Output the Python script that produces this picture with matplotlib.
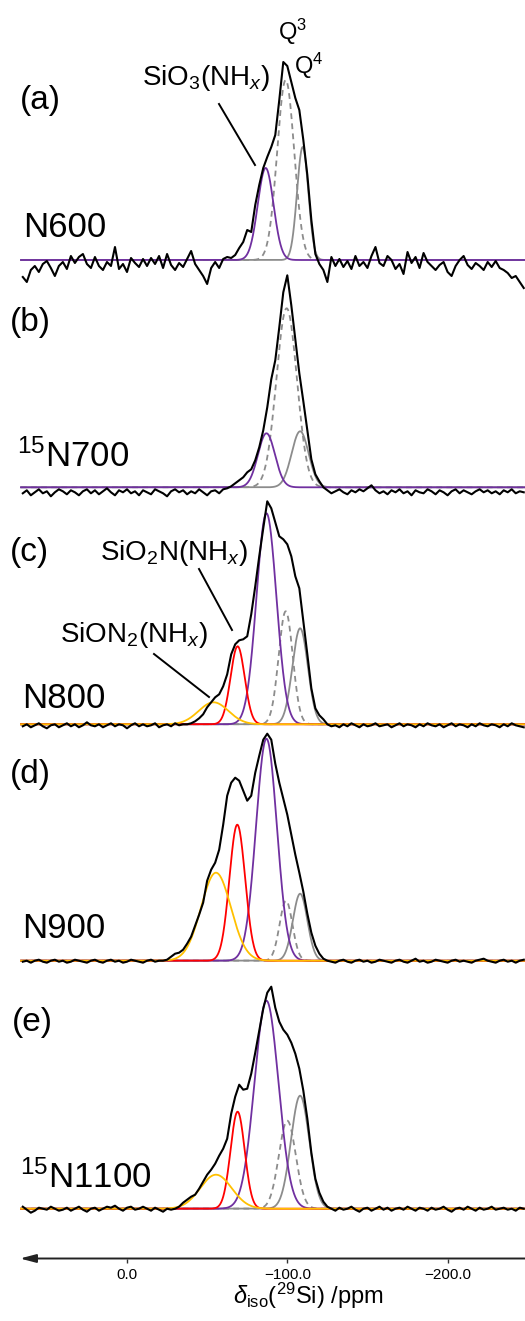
import numpy as np
import matplotlib
matplotlib.use("Agg")
import matplotlib.pyplot as plt

plt.rcParams['font.family'] = ['Liberation Sans', 'DejaVu Sans']
plt.rcParams['mathtext.fontset'] = 'custom'
plt.rcParams['mathtext.rm'] = 'Liberation Sans'
plt.rcParams['mathtext.it'] = 'Liberation Sans:italic'
plt.rcParams['mathtext.bf'] = 'Liberation Sans:bold'
plt.rcParams['mathtext.sf'] = 'Liberation Sans'

# ---------------- data ----------------
panel_letters = ['(a)', '(b)', '(c)', '(d)', '(e)']
sample_names = ['N600', '$^{15}$N700', 'N800', 'N900', '$^{15}$N1100']
tick_values = [0.0, -100.0, -200.0]
tick_labels = ['0.0', '\u2212100.0', '\u2212200.0']
x_label = r'$\delta_{\rm iso}$($^{29}$Si) /ppm'

# fitted components per panel (a..e): centre (ppm), height, sigma (ppm)
q3_center = [-99.0, -99.6, -99.0, -99.2, -100.0]
q3_height = [180, 179, 113, 60, 88]
q3_sigma = [5.3, 6.4, 4.4, 4.0, 5.3]
q4_center = [-109.6, -108.0, -108.0, -108.0, -108.0]
q4_height = [113, 56, 96, 67, 113]
q4_sigma = [3.5, 5.3, 4.8, 4.5, 5.7]
sio3_center = [-86.5, -87.0, -87.0, -87.0, -87.0]
sio3_height = [92, 54, 211, 222, 208]
sio3_sigma = [4.9, 5.3, 6.2, 6.5, 7.5]
sio2n_center = [-69.0, -69.0, -69.0, -68.8, -69.0]
sio2n_height = [0, 0, 78, 136, 97]
sio2n_sigma = [4.4, 4.4, 4.4, 4.9, 4.4]
sion2_center = [-54.0, -54.0, -54.0, -55.5, -55.5]
sion2_height = [0, 0, 22, 88, 34]
sion2_sigma = [9.3, 9.3, 9.3, 9.3, 9.8]

# experimental spectra, sampled every 2.5 ppm from 65 to -247.5 ppm
exp_ppm = np.linspace(65.0, -247.5, 126)
exp_a = [-17, -22, -10, -6, -12, -4, -1, -8, -16, -6,
         -2, -9, 4, -3, 3, 6, -4, -8, 3, -6,
         -10, -2, -6, 13, -9, -4, -12, 2, -3, -7,
         1, -6, 2, -4, 4, -8, 6, -5, -10, -3,
         -7, 1, 9, -4, -10, -16, -24, -8, -2, -8,
         1, 3, 2, 5, 12, 18, 30, 28, 55, 75,
         92, 103, 113, 125, 160, 198, 194, 178, 162, 150,
         120, 85, 40, 6, -4, -10, -22, 3, -6, 1,
         -7, -1, -9, 4, -6, -2, -8, 4, 13, -3,
         -6, 4, 0, -9, -4, -14, 8, -3, 3, -8,
         7, -2, -6, -10, -5, -2, -12, -16, -6, 0,
         4, -5, -9, -3, -6, -10, -2, -7, -1, -8,
         -10, -13, -18, -16, -22, -28]
exp_b = [-6, -3, -8, -5, -2, -6, -4, -9, -5, -2,
         -4, -7, -3, -5, -8, -4, -2, -6, -3, -7,
         -4, -1, -5, -8, -3, -5, -2, -6, -4, -8,
         -3, -5, -7, -2, -4, -6, -9, -4, -2, -5,
         -3, -7, -4, -6, -2, -5, -8, -4, -3, -6,
         -2, -1, 1, 4, 7, 10, 15, 18, 27, 40,
         57, 80, 108, 127, 160, 195, 212, 182, 148, 114,
         86, 57, 28, 13, 6, 0, -3, -6, -4, -2,
         -5, -7, -3, -5, -2, -4, -1, 2, -3, -6,
         -4, -7, -3, -5, -2, -6, -4, -8, -3, -5,
         -6, -2, -4, -7, -3, -5, -8, -4, -2, -6,
         -3, -5, -7, -4, -2, -5, -3, -6, -4, -7,
         -3, -5, -2, -6, -4, -5]
exp_c = [-2, 0, -3, -1, 1, -2, -4, -1, 0, -3,
         -1, 1, -2, 0, -3, -1, 2, -1, -2, 0,
         -3, -1, 1, -2, 0, -1, -4, -1, 1, -2,
         0, -2, -1, 1, -3, -1, 0, -2, 1, -1,
         0, 0, 1, 3, 6, 10, 17, 22, 27, 30,
         38, 50, 70, 80, 84, 85, 88, 110, 138, 168,
         196, 223, 216, 202, 188, 185, 180, 168, 148, 136,
         103, 70, 36, 16, 9, 5, 0, -2, -1, -3,
         0, -2, 1, -1, -3, 0, -2, -1, 1, -2,
         -1, 0, -3, -1, 1, -2, 0, -1, -3, 0,
         -2, 1, -1, -2, 0, -3, -1, 1, -2, 0,
         -1, -3, 0, -2, 1, -1, -2, 0, -1, -3,
         0, -2, 1, -1, -2, -3]
exp_d = [-1, 0, -2, 0, 1, -1, -2, 0, 1, -1,
         0, -2, -1, 1, 0, -1, -2, 0, 1, -1,
         -2, 0, 1, -1, 0, -2, -1, 1, 0, -1,
         -2, 0, 1, -1, 0, 0, 1, 4, 7, 8,
         11, 17, 24, 35, 46, 58, 80, 91, 98, 111,
         136, 165, 178, 183, 180, 170, 160, 165, 188, 205,
         221, 227, 221, 197, 178, 162, 146, 126, 106, 88,
         69, 47, 28, 15, 7, 2, 0, -1, -2, 0,
         1, -1, -2, 0, 1, -1, 0, -2, -1, 1,
         0, -1, -2, 0, 1, -1, -2, 0, 2, -1,
         0, -2, -1, 1, 0, -1, -2, 0, 1, -1,
         0, -1, -2, 0, 1, 2, 0, -1, -2, 0,
         1, -1, 0, -2, 0, 1]
exp_e = [2, -1, -4, -2, 1, 0, -1, 2, 0, -2,
         -1, 1, -2, 0, 2, -1, -3, 0, 1, -2,
         0, 2, 1, 3, 0, -2, 1, 2, -1, 0,
         2, 0, -2, 1, -1, -3, 0, -1, 0, 2,
         6, 9, 12, 14, 20, 27, 34, 39, 45, 53,
         60, 70, 95, 112, 124, 119, 120, 135, 156, 178,
         200, 216, 222, 201, 187, 179, 174, 166, 155, 140,
         118, 90, 56, 30, 16, 7, 2, 0, -2, 1,
         -1, 0, 2, -1, -3, 0, 1, -2, 0, 2,
         -1, 1, -2, 0, 1, -1, 2, 0, -2, 1,
         0, -2, 1, -1, 0, 2, -1, -3, 0, 1,
         -1, 2, 0, -2, 1, -1, 0, 2, -1, 0,
         1, -1, 0, -2, 1, 0]
experiments = [exp_a, exp_b, exp_c, exp_d, exp_e]

# ---------------- layout / styles ----------------
W, H = 525, 1321
AXIS_ROW = 1258.5
baseline_row = [260.0, 487.3, 724.3, 960.7, 1208.7]
PURPLE = '#7030A0'
RED = '#FF0000'
GOLD = '#FFC000'
GRAY = '#8C8C8C'


def px2ppm(x):
    return (127.0 - x) / 1.603


def gauss(x, c, h, s):
    return h * np.exp(-0.5 * ((x - c) / s) ** 2)


fig = plt.figure(figsize=(W / 100, H / 100), dpi=100)
ax = fig.add_axes([0, (H - AXIS_ROW) / H, 1, AXIS_ROW / H])
ax.set_xlim(px2ppm(0), px2ppm(W))
ax.set_ylim(AXIS_ROW, 0)

fine = np.linspace(px2ppm(21), px2ppm(W + 2), 1600)

for p in range(5):
    b = baseline_row[p]
    ax.plot(fine, b - gauss(fine, q4_center[p], q4_height[p], q4_sigma[p]),
            color=GRAY, lw=1.3, zorder=2)
    ax.plot(fine, b - gauss(fine, q3_center[p], q3_height[p], q3_sigma[p]),
            color=GRAY, lw=1.3, ls=(0, (3.2, 2.4)), zorder=2)
    ax.plot(fine, b - gauss(fine, sio3_center[p], sio3_height[p], sio3_sigma[p]),
            color=PURPLE, lw=1.3, zorder=3)
    if sio2n_height[p] > 0:
        ax.plot(fine, b - gauss(fine, sio2n_center[p], sio2n_height[p], sio2n_sigma[p]),
                color=RED, lw=1.3, zorder=3)
    if sion2_height[p] > 0:
        ax.plot(fine, b - gauss(fine, sion2_center[p], sion2_height[p], sion2_sigma[p]),
                color=GOLD, lw=1.3, zorder=3)
    ax.plot(exp_ppm, b - np.array(experiments[p], dtype=float),
            color='black', lw=1.5, zorder=5)

# panel letters and sample names
letter_pos = [(20, 101), (10, 322), (10, 553), (10, 775), (12, 1022)]
name_pos = [(23, 237), (17, 467), (22, 708), (22, 938), (20, 1188)]
for p in range(5):
    lx, ly = letter_pos[p]
    ax.text(px2ppm(lx), ly, panel_letters[p], fontsize=24, ha='left', va='center')
    nx, ny = name_pos[p]
    ax.text(px2ppm(nx), ny, sample_names[p], fontsize=25, ha='left', va='baseline')

# assignment labels
ax.text(px2ppm(278), 40, 'Q$^3$', fontsize=17, ha='left', va='baseline')
ax.text(px2ppm(294), 74, 'Q$^4$', fontsize=17, ha='left', va='baseline')
ax.text(px2ppm(142), 85, 'SiO$_3$(NH$_x$)', fontsize=20, ha='left', va='baseline')
ax.plot([px2ppm(219), px2ppm(255)], [104, 165], color='black', lw=1.4)
ax.text(px2ppm(100), 560, 'SiO$_2$N(NH$_x$)', fontsize=20, ha='left', va='baseline')
ax.plot([px2ppm(199), px2ppm(232)], [569, 630], color='black', lw=1.4)
ax.text(px2ppm(60), 642, 'SiON$_2$(NH$_x$)', fontsize=20, ha='left', va='baseline')
ax.plot([px2ppm(154), px2ppm(209)], [654, 697], color='black', lw=1.4)

# axis with arrow
for s in ax.spines.values():
    s.set_visible(False)
ax.set_yticks([])
ax.set_xticks(tick_values)
ax.set_xticklabels(tick_labels)
ax.tick_params(axis='x', direction='out', length=3, width=1, color='#333333',
               labelsize=11, pad=4)
ax.annotate('', xy=(20 / W, 0), xycoords='axes fraction', xytext=(1.0, 0),
            textcoords='axes fraction',
            arrowprops=dict(arrowstyle='-|>,head_length=0.95,head_width=0.25',
                            lw=1.4, color='#222222', shrinkA=0, shrinkB=0),
            annotation_clip=False)
ax.set_xlabel(x_label, fontsize=17)
ax.xaxis.set_label_coords(308 / W, -(1281 - AXIS_ROW) / AXIS_ROW)

fig.savefig('out.png', dpi=100)
